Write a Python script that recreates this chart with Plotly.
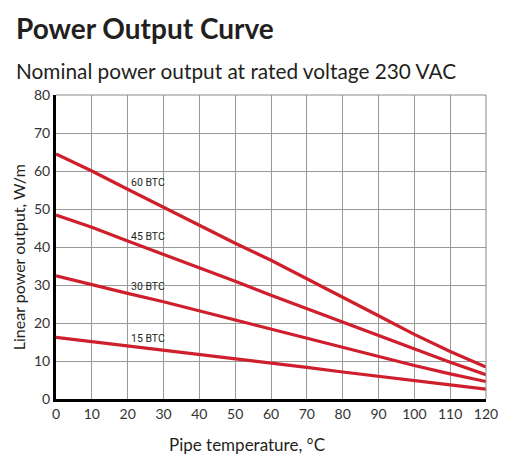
import plotly.graph_objects as go

# pipe temperature, °C
temps = [0, 10, 20, 30, 40, 50, 60, 70, 80, 90, 100, 110, 120]

# linear power output, W/m
btc_60 = [64.5, 60.0, 55.2, 50.4, 45.6, 41.0, 36.5, 31.7, 26.8, 21.9, 17.0, 12.5, 8.4]
btc_45 = [48.4, 45.2, 41.6, 38.1, 34.6, 31.0, 27.3, 23.8, 20.1, 16.6, 13.1, 9.7, 6.4]
btc_30 = [32.4, 30.0, 27.8, 25.6, 23.2, 20.8, 18.3, 15.9, 13.6, 11.2, 8.8, 6.6, 4.6]
btc_15 = [16.2, 15.1, 13.9, 12.8, 11.7, 10.6, 9.5, 8.3, 7.1, 5.9, 4.8, 3.7, 2.6]

series_names = ["60 BTC", "45 BTC", "30 BTC", "15 BTC"]
label_x = [20.3, 20.3, 20.3, 20.3]
label_y = [56.9, 42.7, 29.6, 15.9]

FONT = "Lato, 'Open Sans', sans-serif"
DARK = "#231f20"
RED = "#cf1f2d"

fig = go.Figure()
for name, vals in zip(series_names, [btc_60, btc_45, btc_30, btc_15]):
    fig.add_trace(go.Scatter(
        x=temps, y=vals, mode="lines", name=name,
        line=dict(color=RED, width=3.2),
        hoverinfo="x+y+name",
    ))

# curve labels
for name, lx, ly in zip(series_names, label_x, label_y):
    fig.add_annotation(
        x=lx, y=ly, text=name, showarrow=False,
        xanchor="left", yanchor="middle",
        font=dict(family="'Liberation Sans Narrow', Roboto, sans-serif",
                  size=10.5, color=DARK),
    )

# title, subtitle and axis titles (paper coords, plot area is 430x304 px)
fig.add_annotation(
    x=-42 / 430, y=1.222, xref="paper", yref="paper", text="<b>Power Output Curve</b>",
    showarrow=False, xanchor="left", yanchor="middle",
    font=dict(family=FONT, size=28, color=DARK),
)
fig.add_annotation(
    x=-42 / 430, y=1.082, xref="paper", yref="paper",
    text="Nominal power output at rated voltage 230 VAC",
    showarrow=False, xanchor="left", yanchor="middle",
    font=dict(family=FONT, size=20.8, color=DARK),
)
fig.add_annotation(
    x=0.444, y=-0.151, xref="paper", yref="paper", text="Pipe temperature, °C",
    showarrow=False, xanchor="center", yanchor="middle",
    font=dict(family=FONT, size=17, color=DARK),
)
fig.add_annotation(
    x=-0.088, y=0.467, xref="paper", yref="paper", text="Linear power output, W/m",
    showarrow=False, xanchor="center", yanchor="middle", textangle=-90,
    font=dict(family=FONT, size=16, color=DARK),
)

# page body adds an 8px offset, so the figure is 8px smaller and shifted
fig.update_layout(
    width=502, height=460,
    margin=dict(l=48, r=24, t=87, b=69),
    paper_bgcolor="white", plot_bgcolor="white",
    showlegend=False,
    font=dict(family=FONT, size=14, color=DARK),
)

fig.update_xaxes(
    range=[0, 120], dtick=10, tick0=0, automargin=False,
    showgrid=True, gridcolor="#999999", gridwidth=1,
    showline=True, linecolor="black", linewidth=3,
    ticks="", zeroline=False,
    tickfont=dict(size=14, color="#333333"),
)
fig.update_yaxes(
    range=[0, 80], dtick=10, tick0=0, automargin=False,
    showgrid=True, gridcolor="#999999", gridwidth=1,
    showline=True, linecolor="black", linewidth=3,
    ticks="", zeroline=False,
    tickfont=dict(size=14, color="#333333"),
)

# top and right frame lines in grid grey
fig.add_shape(type="line", xref="paper", yref="paper", x0=0, x1=1, y0=1, y1=1,
              line=dict(color="#888888", width=1))
fig.add_shape(type="line", xref="paper", yref="paper", x0=1, x1=1, y0=0, y1=1,
              line=dict(color="#888888", width=1))

fig.write_html("out.html")
